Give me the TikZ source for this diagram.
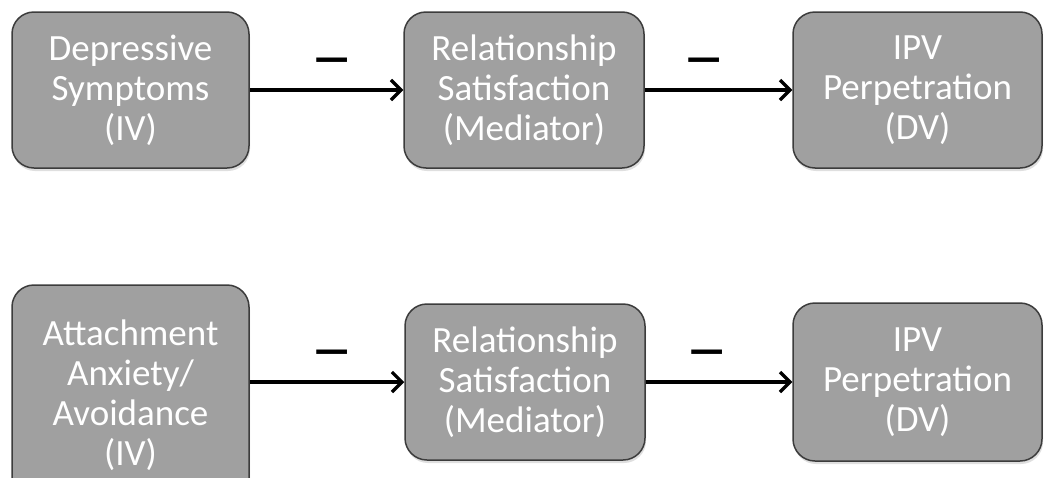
\documentclass[tikz,border=0pt]{standalone}
\usepackage{fontspec}
\setmainfont{Carlito}
\usetikzlibrary{arrows.meta,shadows}
\definecolor{boxfill}{HTML}{A0A0A0}
\definecolor{boxline}{HTML}{3C3C3C}
\tikzset{
  varbox/.style={draw=boxline, line width=1.5pt, fill=boxfill, rounded corners=22pt,
    align=center, text=white, inner sep=0pt,
    font=\fontsize{37}{40}\selectfont,
    drop shadow={opacity=0.25, shadow xshift=1pt, shadow yshift=-3pt}},
  link/.style={line width=3.2pt, -{Straight Barb[length=10pt,width=20pt,line width=3.2pt]}},
  sign/.style={font=\fontsize{56}{56}\selectfont\bfseries, inner sep=0pt}
}
\newcommand{\wdash}{\scalebox{1.55}[0.9]{–}}
\begin{document}
\begin{tikzpicture}[x=1pt,y=-1pt]
  \useasboundingbox (0,0) rectangle (1044,477);
  \clip (0,0) rectangle (1044,477);
  \fill[white] (0,0) rectangle (1044,477);

  % upper model: depressive symptoms
  \node[varbox, minimum width=237pt, minimum height=156pt] (iv1) at (130.5,90)
    {Depressive\\Symptoms\\(IV)};
  \node[varbox, minimum width=240pt, minimum height=156pt] (med1) at (524,90)
    {Relationship\\Satisfaction\\(Mediator)};
  \node[varbox, minimum width=249pt, minimum height=156pt] (dv1) at (917.5,90)
    {IPV\\Perpetration\\(DV)};
  \draw[link] (iv1) -- (med1);
  \draw[link] (med1) -- (dv1);
  \node[sign] (s1) at (332,66) {\wdash};
  \node[sign] (s2) at (704,66) {\wdash};

  % lower model: attachment anxiety/avoidance
  \node[varbox, minimum width=237pt, minimum height=220pt] (iv2) at (130.5,395)
    {Attachment\\Anxiety/\\Avoidance\\(IV)};
  \node[varbox, minimum width=240pt, minimum height=156pt] (med2) at (525,382)
    {Relationship\\Satisfaction\\(Mediator)};
  \node[varbox, minimum width=249pt, minimum height=158pt] (dv2) at (917.5,382)
    {IPV\\Perpetration\\(DV)};
  \draw[link] (iv2.east |- med2) -- (med2);
  \draw[link] (med2) -- (dv2);
  \node[sign] (s3) at (332,358) {\wdash};
  \node[sign] (s4) at (707,358) {\wdash};
\end{tikzpicture}
\end{document}
